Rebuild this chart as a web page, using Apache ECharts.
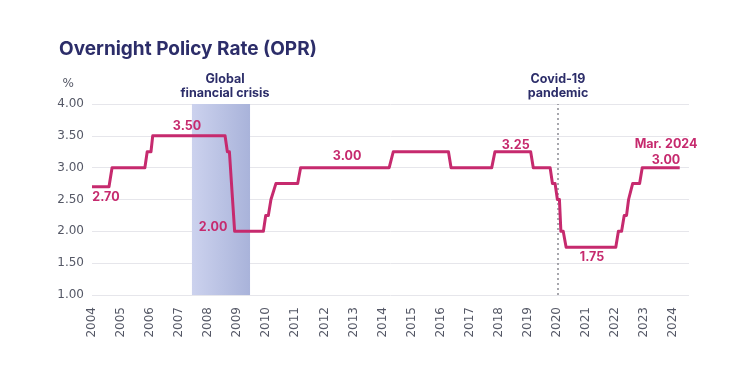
<!DOCTYPE html>
<html>
<head>
<meta charset="utf-8">
<script src="https://cdn.jsdelivr.net/npm/echarts@6/dist/echarts.min.js"></script>
<style>html,body{margin:0;padding:0;background:#fff}#c{width:750px;height:384px}</style>
</head>
<body>
<div id="c"></div>
<script>
// Step points of the OPR line (decimal years, %)
const years = [2004.0, 2004.585, 2004.69, 2005.82, 2005.90, 2006.03, 2006.09, 2008.58, 2008.66, 2008.73,
  2008.91, 2009.90, 2009.98, 2010.07, 2010.16, 2010.22, 2010.33, 2011.08, 2011.18, 2014.23,
  2014.37, 2016.27, 2016.36, 2017.76, 2017.87, 2019.10, 2019.19, 2019.77, 2019.85, 2019.94,
  2020.02, 2020.09, 2020.14, 2020.22, 2020.32, 2022.03, 2022.12, 2022.23, 2022.32, 2022.40,
  2022.47, 2022.53, 2022.61, 2022.85, 2022.94, 2024.23];
const rates = [2.70, 2.70, 3.00, 3.00, 3.25, 3.25, 3.50, 3.50, 3.25, 3.25,
  2.00, 2.00, 2.25, 2.25, 2.50, 2.50, 2.75, 2.75, 3.00, 3.00,
  3.25, 3.25, 3.00, 3.00, 3.25, 3.25, 3.00, 3.00, 2.75, 2.75,
  2.50, 2.50, 2.00, 2.00, 1.75, 1.75, 2.00, 2.00, 2.25, 2.25,
  2.50, 2.50, 2.75, 2.75, 3.00, 3.00];
const yTicks = [1.00, 1.50, 2.00, 2.50, 3.00, 3.50, 4.00];
const crisisStart = 2007.44, crisisEnd = 2009.44;
const covidStart = 2020.04;
// Value call-outs: [year anchor, rate, text]
const callouts = [
  [2004.48, 2.70, '2.70'],
  [2007.27, 3.50, '3.50'],
  [2008.17, 2.00, '2.00'],
  [2012.78, 3.00, '3.00'],
  [2018.585, 3.25, '3.25'],
  [2021.21, 1.75, '1.75'],
  [2023.76, 3.00, 'Mar. 2024\n3.00']
];
const calloutOffsets = [[0, 10], [0, -10], [0, -4], [0, -11], [0, -7], [0, 10], [0, -15]];

const NAVY = '#2c2d69';
const MAG = '#c62a6e';
const chart = echarts.init(document.getElementById('c'));
chart.setOption({
  animation: false,
  backgroundColor: '#fff',
  title: {
    text: 'Overnight Policy Rate (OPR)',
    left: 54, top: 35,
    textStyle: {fontFamily: 'Inter', fontWeight: 'bold', fontSize: 19, color: NAVY}
  },
  grid: {left: 92, right: 61, top: 104, bottom: 89},
  xAxis: {
    type: 'value', min: 2004, max: 2024.55, interval: 1,
    axisLine: {show: false}, axisTick: {show: false}, splitLine: {show: false},
    axisLabel: {rotate: 90, margin: 12, color: '#555866', fontFamily: 'DejaVu Sans', fontSize: 12,
      showMaxLabel: false,
      formatter: v => Number.isInteger(v) ? String(v) : ''}
  },
  yAxis: {
    type: 'value', min: yTicks[0], max: yTicks[yTicks.length - 1], interval: 0.5,
    name: '%', nameLocation: 'end', nameGap: 20,
    nameTextStyle: {align: 'right', verticalAlign: 'middle', padding: [0, 18, 0, 0], color: '#555866', fontFamily: 'DejaVu Sans', fontSize: 12},
    axisLine: {show: false}, axisTick: {show: false},
    splitLine: {lineStyle: {color: '#e6e6eb', width: 1}},
    axisLabel: {margin: 8, color: '#555866', fontFamily: 'DejaVu Sans', fontSize: 12, formatter: v => v.toFixed(2)}
  },
  series: [{
    type: 'line',
    data: years.map((y, i) => [y, rates[i]]),
    symbol: 'none',
    lineStyle: {color: MAG, width: 3, join: 'round'},
    z: 5,
    markArea: {
      silent: true,
      itemStyle: {
        color: new echarts.graphic.LinearGradient(0, 0, 1, 0, [
          {offset: 0, color: '#ccd2ee'}, {offset: 1, color: '#a9b3da'}
        ])
      },
      label: {show: true, position: 'top', distance: 4, offset: [4, 0],
        color: NAVY, fontFamily: 'Inter', fontWeight: 'bold', fontSize: 12.5, lineHeight: 14, align: 'center'},
      data: [[{xAxis: crisisStart, name: 'Global\nfinancial crisis'}, {xAxis: crisisEnd}]]
    },
    markLine: {
      silent: true, symbol: 'none', animation: false,
      lineStyle: {type: [2, 3], color: '#8a8a92', width: 1.5},
      label: {show: true, position: 'end', distance: 4, formatter: '{b}',
        color: NAVY, fontFamily: 'Inter', fontWeight: 'bold', fontSize: 12.5, lineHeight: 14, align: 'center'},
      data: [{xAxis: covidStart, name: 'Covid-19\npandemic'}]
    },
    markPoint: {
      silent: true, symbol: 'circle', symbolSize: 0,
      label: {show: true, position: 'inside', color: MAG, fontFamily: 'Inter', fontWeight: 'bold',
        fontSize: 12.5, lineHeight: 16, align: 'center'},
      data: callouts.map((c, i) => ({
        coord: [c[0], c[1]], value: c[2],
        label: {formatter: c[2], offset: calloutOffsets[i]}
      }))
    }
  }]
});
</script>
</body>
</html>
